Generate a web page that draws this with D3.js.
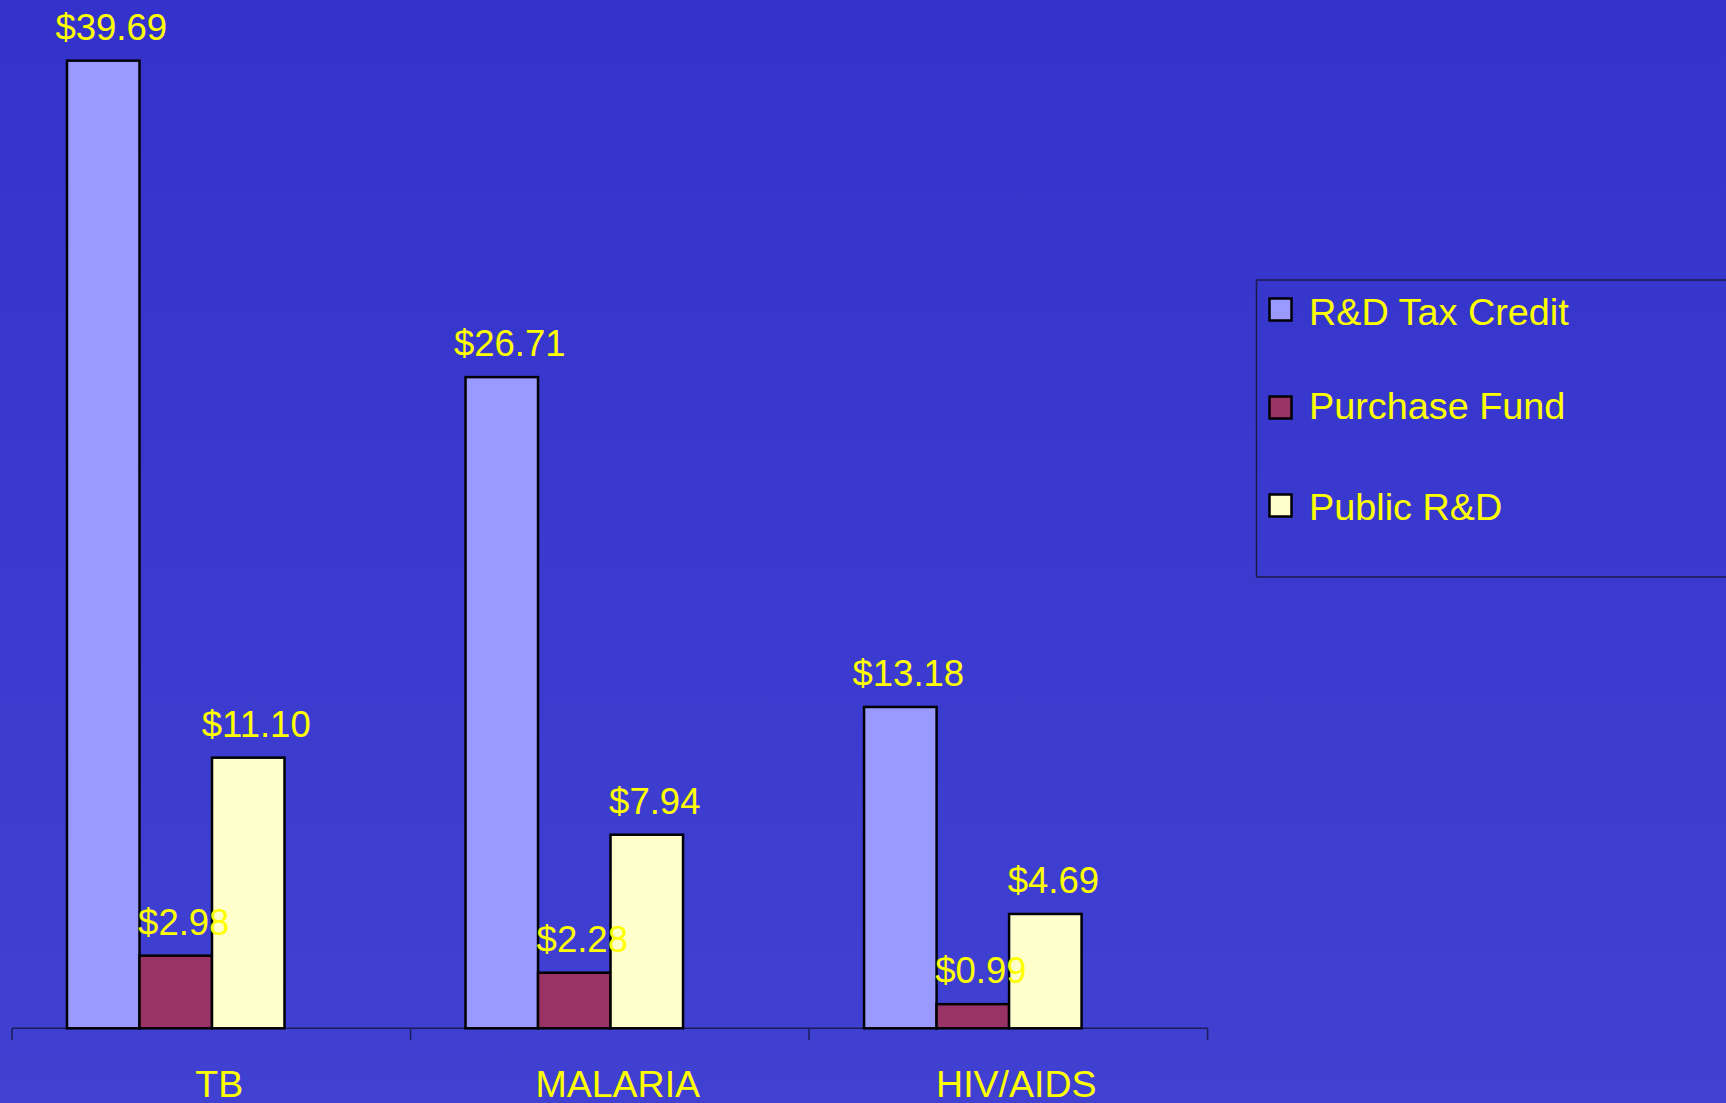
<!DOCTYPE html>
<html>
<head>
<meta charset="utf-8">
<script src="https://cdn.jsdelivr.net/npm/d3@7"></script>
<style>
  html, body { margin: 0; padding: 0; overflow: hidden; }
  svg { display: block; }
</style>
</head>
<body>
<svg id="chart"></svg>
<script>
// data
const categories = ["TB", "MALARIA", "HIV/AIDS"];
const seriesNames = ["R&D Tax Credit", "Purchase Fund", "Public R&D"];
const taxCredit = [39.69, 26.71, 13.18];
const purchaseFund = [2.98, 2.28, 0.99];
const publicRD = [11.10, 7.94, 4.69];
const seriesColors = ["#9999FF", "#993366", "#FFFFCC"];

var width = 1726, height = 1103;
var svg = d3.select("#chart").attr("width", width).attr("height", height);

// background gradient
var defs = svg.append("defs");
var grad = defs.append("linearGradient")
  .attr("id", "bg").attr("x1", 0).attr("y1", 0).attr("x2", 0).attr("y2", 1);
grad.append("stop").attr("offset", "0%").attr("stop-color", "#3333CC");
grad.append("stop").attr("offset", "100%").attr("stop-color", "#4040D1");
svg.append("rect").attr("width", width).attr("height", height).attr("fill", "url(#bg)");

var baseY = 1028.3;
var font = "'Liberation Sans', Arial, sans-serif";

// scales
var x0 = d3.scaleBand().domain(categories).range([12, 1207.6]).padding(0);
var x1 = d3.scaleBand().domain(seriesNames).range([55, 272.5]).padding(0);
var yScale = d3.scaleLinear().domain([0, 40]).range([baseY, baseY - 40 * 24.38]);

var rows = [];
categories.forEach(function (c, i) {
  var vals = [taxCredit[i], purchaseFund[i], publicRD[i]];
  vals.forEach(function (v, j) {
    rows.push({ cat: c, series: seriesNames[j], value: v, color: seriesColors[j] });
  });
});

// axis line + ticks
var axis = svg.append("g");
axis.append("line")
  .attr("x1", x0.range()[0]).attr("x2", x0.range()[1])
  .attr("y1", baseY).attr("y2", baseY)
  .attr("stroke", "#1c1c5a").attr("stroke-width", 1.5);
var tickXs = categories.map(function (c) { return x0(c); }).concat([x0.range()[1]]);
axis.selectAll(".tick")
  .data(tickXs)
  .enter()
  .append("line")
  .attr("x1", function (d) { return d; })
  .attr("x2", function (d) { return d; })
  .attr("y1", baseY).attr("y2", baseY + 12)
  .attr("stroke", "#1c1c5a").attr("stroke-width", 1.5);

// bars
svg.append("g")
  .selectAll("rect")
  .data(rows)
  .enter()
  .append("rect")
  .attr("x", function (d) { return x0(d.cat) + x1(d.series); })
  .attr("width", x1.bandwidth())
  .attr("y", function (d) { return yScale(d.value); })
  .attr("height", function (d) { return baseY - yScale(d.value); })
  .attr("fill", function (d) { return d.color; })
  .attr("stroke", "#000")
  .attr("stroke-width", 2.5);

// value labels (drawn after bars so they sit on top)
svg.append("g")
  .selectAll("text")
  .data(rows)
  .enter()
  .append("text")
  .attr("x", function (d) { return x0(d.cat) + x1(d.series) + x1.bandwidth() / 2 + 8; })
  .attr("y", function (d) { return yScale(d.value) - 21; })
  .attr("text-anchor", "middle")
  .attr("fill", "#FFFF00")
  .style("font", "36.5px " + font)
  .text(function (d) { return "$" + d3.format(".2f")(d.value); });

// category labels
svg.append("g")
  .selectAll("text")
  .data(categories)
  .enter()
  .append("text")
  .attr("x", function (d) { return x0(d) + x0.bandwidth() / 2 + 8; })
  .attr("y", 1096.5)
  .attr("text-anchor", "middle")
  .attr("fill", "#FFFF00")
  .style("font", "37.5px " + font)
  .text(function (d) { return d; });

// legend
var legend = svg.append("g");
legend.append("rect")
  .attr("x", 1256.5).attr("y", 280)
  .attr("width", 520).attr("height", 297)
  .attr("fill", "none")
  .attr("stroke", "#1c1c4a").attr("stroke-width", 1.5);
var legendY = [310, 408, 506];
var legendTextY = [325, 419, 520];
var items = legend.selectAll(".item")
  .data(seriesNames)
  .enter()
  .append("g");
items.append("rect")
  .attr("x", 1269.5)
  .attr("y", function (d, i) { return legendY[i] - 11.5; })
  .attr("width", 22).attr("height", 22)
  .attr("fill", function (d, i) { return seriesColors[i]; })
  .attr("stroke", "#000").attr("stroke-width", 2.5);
items.append("text")
  .attr("x", 1309)
  .attr("y", function (d, i) { return legendTextY[i]; })
  .attr("fill", "#FFFF00")
  .style("font", "37.8px " + font)
  .text(function (d) { return d; });
</script>
</body>
</html>
